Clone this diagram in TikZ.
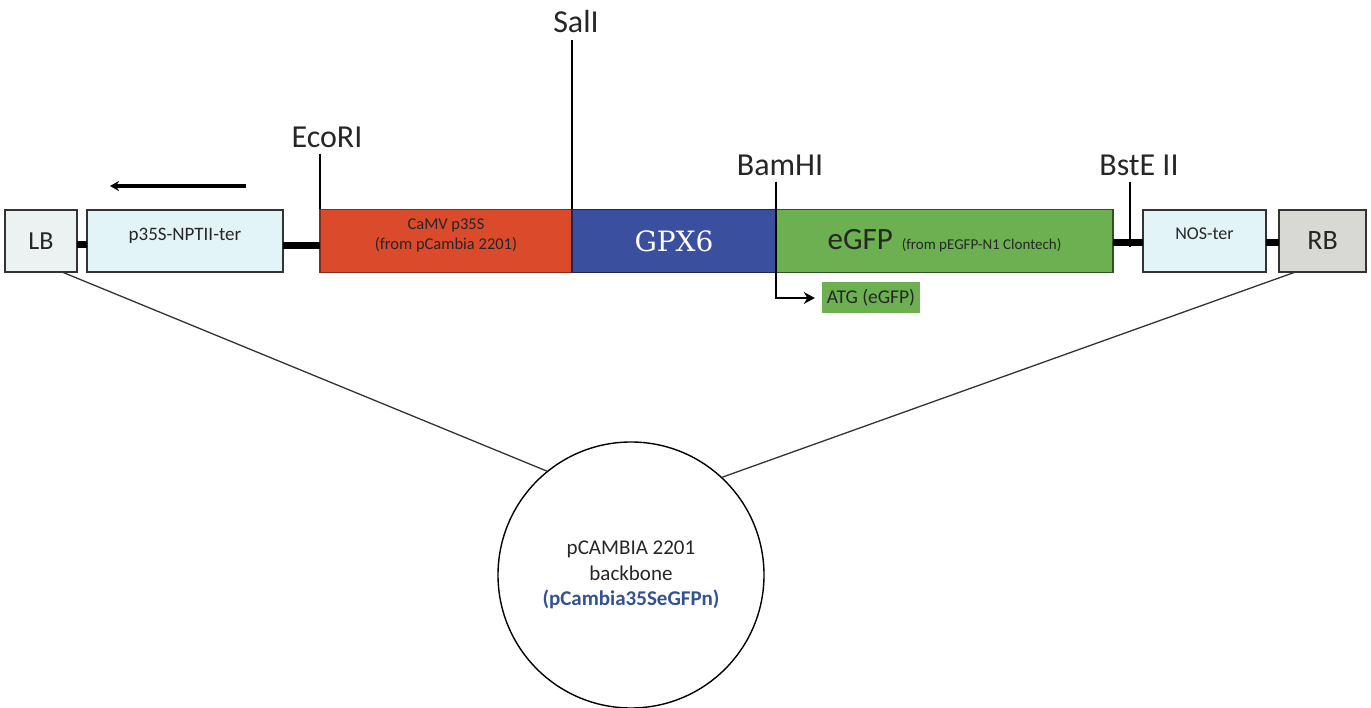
\documentclass[tikz,border=0pt]{standalone}
\usepackage{fontspec}
\setmainfont{Carlito}
\newfontfamily\gpxfont{DejaVu Serif}
\usetikzlibrary{positioning, arrows.meta}
\definecolor{camvred}{HTML}{DA4A2B}
\definecolor{gpxblue}{HTML}{3B4F9F}
\definecolor{gfpgreen}{HTML}{6CB052}
\definecolor{terblue}{HTML}{E3F4F7}
\definecolor{lbgray}{HTML}{ECF2F1}
\definecolor{rbgray}{HTML}{D8D9D5}
\definecolor{bbblue}{HTML}{33528F}
\newcommand{\fsz}[1]{\fontsize{#1}{1.2\dimexpr#1pt\relax}\selectfont}

\tikzset{
	part/.style={draw=black!80, line width=1.4pt, inner sep=0pt, outer sep=0pt, minimum height=62pt, text=black!85},
	raised/.style={text depth=14pt},
	bar/.style={line width=7pt},
	site/.style={line width=1.3pt},
	sitelabel/.style={font=\fontsize{32}{36}\selectfont, inner sep=0pt, text=black!85},
	link/.style={line width=1.3pt, black!80},
}

\begin{document}
\begin{tikzpicture}[x=1pt,y=-1pt]
	\useasboundingbox (0,0) rectangle (1371,708);
	% T-DNA parts
	\node[part, fill=lbgray, minimum width=72pt, font=\fsz{26}] (lb) at (41,241) {LB};
	\node[part, fill=terblue, minimum width=196pt, raised, font=\fsz{19}, right=10pt of lb] (npt) {p35S-NPTII-ter};
	\node[part, fill=camvred, draw=camvred!60!black, minimum width=252pt, minimum height=63pt, raised, align=center, font=\fsz{16.5}, right=37pt of npt] (camv) {CaMV p35S\\(from pCambia 2201)};
	\node[part, fill=gpxblue, draw=gpxblue!50!black, minimum width=204pt, minimum height=63pt, text=white, font=\gpxfont\fsz{28}, right=0pt of camv] (gpx) {GPX6};
	\node[part, fill=gfpgreen, draw=gfpgreen!45!black, minimum width=337pt, minimum height=63pt, font=\fsz{31}, right=0pt of gpx] (egfp) {eGFP\hspace{9pt}{\fsz{15}(from pEGFP-N1 Clontech)}};
	\node[part, fill=terblue, minimum width=123pt, raised, font=\fsz{18}, right=30pt of egfp] (nos) {NOS-ter};
	\node[part, fill=rbgray, minimum width=87pt, font=\fsz{28}, right=13pt of nos] (rb) {RB};
	% linkers
	\draw[bar] (lb.east |- 0,245) -- (npt.west |- 0,245);
	\draw[bar] (npt.east |- 0,246) -- (camv.west |- 0,246);
	\draw[bar] (egfp.east |- 0,243) -- (nos.west |- 0,243);
	\draw[bar] (nos.east |- 0,243) -- (rb.west |- 0,243);
	% orientation of the selection cassette
	\draw[line width=4pt, -{Stealth[length=9pt,width=10pt]}] ([xshift=-37pt,yshift=24pt]npt.north east) -- ([xshift=23pt,yshift=24pt]npt.north west);
	% restriction sites
	\node[sitelabel] (ecori) at (327,137) {EcoRI};
	\node[sitelabel] (sali) at (576,22) {SalI};
	\node[sitelabel] (bamhi) at (780,165) {BamHI};
	\node[sitelabel] (bste) at (1139,165) {BstE II};
	\draw[site] ([yshift=-6pt]ecori.south -| camv.north west) -- (camv.north west);
	\draw[site] ([yshift=-7pt]sali.south -| gpx.north west) -- (gpx.north west);
	\draw[site] ([xshift=17pt]egfp.east |- bste.south) ++(0,-6pt) -- ([xshift=17pt,yshift=-6pt]egfp.east);
	% start codon
	\node[fill=gfpgreen, inner sep=0pt, minimum width=98pt, minimum height=31pt, font=\fsz{19.5}, text=black!85] (atg) at (871,298) {ATG (eGFP)};
	\draw[site, -{Stealth[length=11pt,width=12pt]}, shorten >=7pt] ([yshift=-6pt]bamhi.south -| egfp.north west) |- (atg.west);
	% vector backbone
	\node[draw, circle, line width=1.4pt, minimum size=266pt, align=center, font=\fsz{21}, text=black!85] (bb) at (631,575) {pCAMBIA 2201\\backbone\\\textcolor{bbblue}{\textbf{(pCambia35SeGFPn)}}};
	\draw[link] ([xshift=21pt]lb.south) -- (bb.129);
	\draw[link] ([xshift=-27pt]rb.south) -- (bb.47);
\end{tikzpicture}
\end{document}
